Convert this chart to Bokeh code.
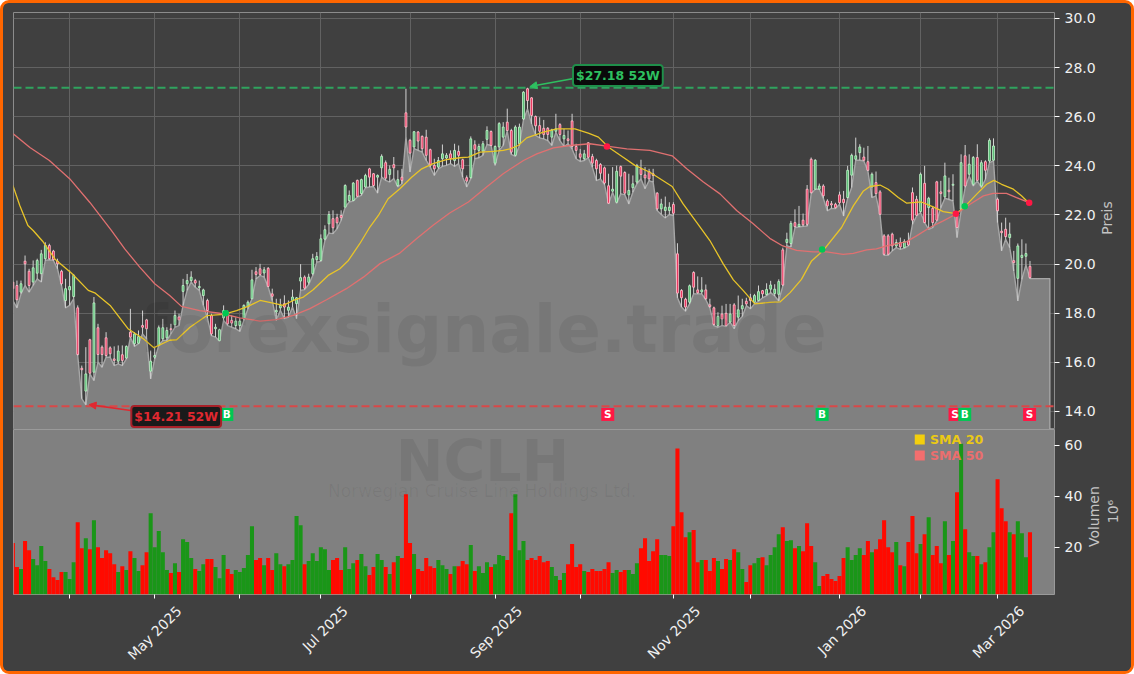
from bokeh.plotting import figure
from bokeh.layouts import column
from bokeh.core.properties import value
from bokeh.models import FixedTicker, Grid, Label, Arrow, NormalHead, Span, ColumnDataSource, Range1d, PrintfTickFormatter, LinearAxis
from bokeh.embed import file_html
from bokeh.resources import INLINE
import math

# ---------- data ----------
direction = (
    "RRGRRGGGGR" "RRRGGGRRGR" "GRRRRRGRGR" "GGRRGGGGGR" "GRGGGRGGRR"
    "GGGRRGGGGG" "RRGRRGGRGG" "GGRGGGGGGR" "RRGGGRGGRR" "GGRGRGRRRG"
    "RRRRRGGGRG" "RRRGRGGGRG" "GGRRGGGRRR" "RRRGGRGRRR" "RGRRRRRRGG"
    "RRGGGRRRRR" "GGGRRRRGRR" "GRRRGRRGRG" "GRRGGRGGGG" "RGGRGRRRGG"
    "RRRRRRGGGG" "RRGRRRRRGR" "GRRRGRGRRR" "GRGRGRGGRG" "RGGRRRGRGG" "GR"
)
high = [
    19.33,19.33,19.33,20.35,19.81,20.15,20.22,20.58,20.89,20.83,
    20.58,20.22,19.77,19.40,19.74,19.60,18.32,15.87,16.62,16.96,
    18.66,17.57,16.69,17.23,16.65,16.65,16.69,16.69,16.69,18.18,
    17.23,17.30,18.11,17.77,16.48,16.62,17.50,17.77,17.43,17.57,
    18.11,17.98,19.40,19.60,19.71,19.40,19.33,19.00,18.59,17.98,
    17.57,17.37,18.32,18.11,17.91,17.84,17.81,18.36,18.52,19.77,
    19.88,20.01,19.88,19.88,19.00,18.59,18.59,18.73,18.52,18.96,
    18.66,20.00,19.54,19.61,20.42,20.49,21.21,21.58,22.16,22.19,
    22.05,22.19,23.25,23.00,23.34,23.44,23.48,23.68,23.92,23.71,
    23.65,24.47,24.22,24.02,24.36,23.82,23.88,27.14,25.10,25.42,
    25.42,25.24,25.47,24.70,24.29,24.36,24.87,24.52,24.63,24.90,
    24.83,24.29,23.61,25.20,25.04,24.90,25.01,25.61,25.44,24.83,
    25.78,25.78,26.33,25.51,25.65,25.72,27.04,27.18,26.80,26.05,
    25.98,25.87,25.58,25.51,26.12,25.74,25.51,25.44,26.12,24.90,
    24.69,24.65,24.96,24.49,24.29,24.11,23.97,23.68,23.95,24.01,
    24.01,23.78,23.68,23.61,24.08,24.25,23.95,23.88,23.88,22.93,
    22.66,22.75,22.52,22.52,20.85,18.98,18.63,19.17,19.71,19.50,
    19.47,19.17,18.59,18.27,18.04,18.31,18.38,18.38,18.41,18.72,
    18.59,18.63,18.79,18.79,19.13,18.95,19.22,19.32,19.18,19.38,
    20.67,21.28,21.76,22.23,22.37,22.06,23.22,24.34,24.27,23.28,
    23.25,22.64,22.57,22.50,22.95,22.98,24.00,24.50,25.15,24.88,
    24.74,24.81,23.73,23.77,23.01,21.22,21.22,21.28,21.01,21.08,
    21.01,21.28,23.12,22.78,23.73,24.00,22.74,22.37,23.39,23.39,
    24.13,23.52,23.66,22.14,24.47,24.85,24.47,24.40,24.88,24.23,
    24.23,25.12,25.12,22.71,21.69,21.89,21.69,20.54,20.84,21.01,
    20.84,20.13,
]
body_top = [
    19.27,19.13,19.20,20.12,19.71,19.85,20.15,20.42,20.76,20.76,
    20.53,20.12,19.71,19.00,19.09,19.54,18.22,15.76,15.53,16.92,
    18.42,17.41,16.62,17.00,16.59,16.14,16.46,16.31,16.65,17.23,
    17.16,17.05,17.50,17.73,16.05,16.28,17.41,17.41,17.30,17.37,
    17.91,17.85,19.13,19.33,19.47,19.33,19.09,18.95,18.52,17.91,
    17.43,17.33,18.11,17.98,17.71,17.68,17.68,18.32,18.45,19.36,
    19.69,19.81,19.77,19.83,18.79,18.12,18.32,18.39,18.25,18.66,
    18.63,19.45,19.47,19.47,20.22,20.31,21.03,21.40,22.02,21.85,
    21.89,21.98,23.20,22.80,23.30,23.41,23.44,23.61,23.88,23.68,
    23.61,24.39,24.13,23.86,24.05,23.44,23.54,26.16,25.04,25.39,
    25.38,25.20,25.17,24.66,24.02,24.22,24.49,24.43,24.49,24.63,
    24.59,24.25,23.52,25.10,24.86,24.79,24.90,25.44,25.40,24.79,
    25.72,25.58,25.78,25.44,25.58,25.58,27.00,27.14,26.77,26.01,
    25.64,25.53,25.53,25.47,25.51,25.68,25.24,25.10,25.83,24.79,
    24.49,24.49,24.94,24.38,24.22,24.06,23.92,23.19,23.05,23.78,
    23.97,23.73,23.00,23.27,24.01,23.88,23.63,23.77,23.68,22.89,
    22.45,22.32,22.32,22.43,20.42,18.93,18.57,19.12,19.66,18.95,
    18.95,18.95,18.34,18.22,17.87,17.97,18.00,17.97,18.34,18.14,
    18.31,18.49,18.63,18.72,18.88,18.92,18.97,19.15,18.98,19.29,
    20.58,21.01,21.66,21.69,21.62,21.79,23.05,24.27,24.23,23.18,
    23.18,22.57,22.46,22.44,22.82,22.64,23.82,24.43,24.41,24.77,
    24.36,24.17,23.66,23.32,22.94,21.15,21.15,21.22,20.88,20.88,
    20.92,20.94,22.91,22.64,23.66,23.29,22.68,22.27,23.35,22.94,
    23.59,23.01,23.25,22.06,24.13,24.41,24.07,24.34,24.34,24.13,
    24.17,25.04,24.81,22.64,21.34,21.42,21.22,20.14,20.74,20.36,
    20.43,19.91,
]
body_bot = [
    19.00,18.55,18.86,20.01,19.13,19.27,19.63,19.61,20.22,20.22,
    20.18,20.01,19.20,18.52,18.95,18.68,16.32,15.70,14.83,15.56,
    15.60,16.32,16.32,16.28,16.35,16.08,16.05,16.08,16.18,17.03,
    16.76,16.78,17.43,17.37,15.64,16.21,16.69,16.96,17.00,17.33,
    17.53,17.73,18.89,19.20,19.33,19.23,19.04,18.72,18.11,17.16,
    17.37,16.89,17.81,17.57,17.60,17.50,17.50,17.77,18.28,18.59,
    19.58,19.58,19.64,19.09,18.69,18.05,18.22,18.25,18.12,18.52,
    18.39,19.31,19.02,19.26,19.61,20.18,20.15,21.02,21.64,21.48,
    21.68,21.89,22.32,22.59,22.59,22.76,22.87,23.14,23.54,23.20,
    23.54,23.92,23.50,23.65,23.92,23.20,23.41,25.58,24.52,24.77,
    25.01,24.70,24.43,24.02,23.88,23.95,24.29,24.32,24.30,24.22,
    24.43,23.88,23.38,23.52,24.67,24.63,24.60,25.08,24.83,24.11,
    24.77,25.17,25.44,24.56,24.43,24.90,25.91,26.66,26.05,25.63,
    25.41,25.28,25.28,25.17,25.41,25.28,25.10,25.03,24.79,24.63,
    24.35,24.29,24.35,24.11,23.88,23.70,23.30,22.48,22.97,22.52,
    23.58,22.89,22.82,23.11,23.34,23.65,23.51,23.47,23.61,22.25,
    22.25,22.18,22.18,22.07,18.82,18.63,18.25,18.45,19.06,18.83,
    18.87,18.59,18.27,17.54,17.50,17.77,17.50,17.64,17.50,17.84,
    18.18,18.38,18.52,18.45,18.52,18.79,18.76,18.98,18.80,18.77,
    19.15,20.88,20.84,21.53,21.53,21.60,21.62,22.91,23.05,23.05,
    22.78,22.37,22.41,22.30,22.50,22.50,22.71,23.62,24.27,24.54,
    24.23,23.82,23.14,22.87,22.03,20.40,20.40,20.74,20.74,20.70,
    20.67,20.78,21.79,21.99,22.14,21.69,22.30,21.69,21.79,22.87,
    22.74,22.95,23.21,21.49,22.23,23.18,23.66,23.25,23.41,23.18,
    23.82,24.20,24.23,22.17,21.28,21.12,21.08,20.06,19.42,20.27,
    20.32,19.45,
]
low = [
    18.52,18.22,18.79,19.13,18.86,19.13,19.40,19.27,20.15,20.18,
    20.15,19.81,19.13,18.22,18.32,18.59,16.28,14.52,14.27,15.53,
    15.26,16.01,15.80,16.21,16.21,15.87,15.94,15.87,16.14,17.03,
    16.65,16.76,17.16,16.96,15.33,16.14,16.69,16.89,16.89,17.16,
    17.43,17.50,18.32,18.93,19.27,19.06,18.93,18.32,17.81,17.09,
    17.03,16.86,17.71,17.50,17.43,17.37,17.26,17.71,18.18,18.59,
    19.40,19.54,19.47,19.07,18.52,17.71,18.12,17.78,17.84,18.25,
    17.78,18.93,18.96,19.17,19.54,20.08,20.11,20.97,21.26,21.24,
    21.44,21.78,22.32,22.53,22.57,22.73,22.80,23.11,23.14,23.16,
    22.89,23.54,23.41,23.34,23.48,23.14,23.27,25.17,23.75,24.70,
    24.63,24.56,24.22,23.95,23.61,23.88,23.98,24.02,24.09,23.98,
    24.09,23.54,23.14,23.48,24.29,24.33,24.43,24.87,24.83,24.02,
    24.63,24.83,25.42,24.47,24.39,24.83,25.87,26.32,25.71,25.24,
    25.14,25.10,25.03,24.83,25.37,25.03,24.79,24.90,24.69,24.29,
    24.18,24.22,24.33,23.95,23.40,23.47,23.24,22.45,22.93,22.48,
    22.86,22.83,22.45,22.93,23.27,23.47,23.07,23.40,23.34,22.18,
    22.02,21.88,22.02,21.98,18.63,18.25,18.08,18.38,18.79,18.79,
    18.79,18.55,18.22,17.50,17.43,17.50,17.46,17.64,17.37,17.70,
    17.87,18.31,18.18,18.38,18.49,18.63,18.72,18.84,18.70,18.50,
    19.11,20.74,20.70,21.49,21.51,21.54,21.55,22.87,23.05,23.05,
    22.68,22.17,22.27,22.26,22.44,21.96,22.68,23.12,24.23,24.23,
    24.20,23.79,22.71,22.78,22.00,20.36,20.36,20.54,20.67,20.60,
    20.65,20.74,21.62,21.96,22.10,21.69,21.42,21.49,21.76,22.30,
    22.68,22.63,22.57,21.08,22.17,23.12,23.59,23.18,23.39,23.12,
    23.45,24.13,24.20,21.69,20.54,21.01,20.67,19.72,18.50,19.38,
    19.97,19.41,
]
volume = [
    21.6,12.2,11.4,22.4,18.8,15.3,12.9,20.4,14.5,11.4,
    8.2,7.1,10.2,10.2,7.5,14.1,29.8,19.6,23.5,19.2,
    30.6,20.0,15.7,18.8,17.6,13.3,10.2,12.5,11.0,18.4,
    15.7,10.6,12.9,18.0,33.3,20.0,26.3,18.0,11.0,9.8,
    13.7,10.2,23.1,22.0,15.7,11.4,10.6,13.3,15.3,15.3,
    12.2,7.8,16.9,11.4,9.4,11.0,10.2,11.8,16.9,28.2,
    14.9,15.7,12.9,15.7,11.0,17.6,13.3,12.5,13.3,14.9,
    32.2,28.6,13.3,14.5,17.6,14.5,20.0,19.2,11.0,14.9,
    15.7,11.0,20.0,11.4,13.7,14.9,17.3,12.5,9.0,12.2,
    17.3,14.9,12.2,9.4,14.1,16.5,15.7,40.8,21.6,17.3,
    11.4,10.6,15.7,12.5,11.8,14.9,12.9,11.4,9.4,12.5,
    12.5,14.5,13.3,20.8,10.6,12.5,9.8,14.1,12.2,13.3,
    16.9,16.5,14.9,33.3,40.8,18.8,22.4,14.9,15.7,14.9,
    16.5,14.1,14.5,12.2,8.6,7.1,9.8,13.3,21.2,12.2,
    13.3,10.6,10.2,11.4,10.6,10.6,11.4,14.1,9.8,11.0,
    10.2,11.0,11.0,9.4,13.7,19.6,23.5,14.5,18.4,23.1,
    16.9,16.9,16.5,28.2,58.8,33.7,23.9,25.9,26.7,14.1,
    14.9,14.9,10.6,15.7,14.5,11.4,15.3,14.9,19.2,18.0,
    11.4,6.3,12.9,13.7,15.7,16.0,12.9,16.9,20.0,25.1,
    27.8,22.4,22.7,19.6,20.4,18.4,29.4,20.4,14.1,4.7,
    8.6,9.4,7.5,6.7,8.6,15.7,20.0,14.9,16.9,19.6,
    16.9,22.4,18.0,19.2,23.1,30.6,20.0,18.0,22.0,12.9,
    12.5,22.0,32.2,17.6,21.2,25.1,31.8,16.9,20.4,13.7,
    30.2,16.9,22.4,41.6,60.7,27.0,18.0,16.5,16.5,13.3,
    14.1,20.0,25.9,46.7,35.3,30.2,25.9,25.1,30.2,25.5,
    16.0,25.9,
]
sma20_x = [0,1.7,3.7,5,7.5,10.4,14.5,18.6,20.2,24,28.4,32.2,34.8,38.7,40.4,43.7,47.8,52,55.2,58,61,
           64.2,66.7,69.2,71.7,74.1,77.8,80.7,82.8,85.6,88.1,90.2,92.6,95.5,98.4,100.9,103.7,107,110.3,
           112.4,115.3,118.5,121,122.7,124.7,126.8,130.9,134.2,138.7,142,144.5,147,150.6,153.5,157.2,
           162.7,165.4,168.7,172,175.3,177.8,180.2,183.1,186.8,189.3,191.8,194.6,197.1,200,204.5,207.4,
           209.9,211.5,214,216,218.5,220.6,224.2,227.1,229.6,232.7,234.5,237.8,240.3,242.1,244,246.9,248.9,250.8]
sma20 = [23.2,22.39,21.57,21.37,20.9,20.2,19.63,18.93,18.83,18.32,17.37,16.96,16.6,16.9,16.92,17.43,17.9,17.95,18.11,18.28,18.52,
         18.41,18.32,18.52,18.66,18.96,19.54,19.81,20.15,20.83,21.51,21.98,22.66,23.07,23.54,23.88,24.09,24.25,24.33,
         24.36,24.56,24.59,24.63,24.69,24.83,25.14,25.37,25.51,25.51,25.33,25.17,24.76,24.35,24.02,23.74,
         23.16,22.45,21.71,20.96,20.01,19.36,18.93,18.38,18.44,18.46,18.84,19.38,20.13,20.56,21.49,22.37,
         22.98,23.16,23.22,23.05,22.71,22.48,22.53,22.33,22.14,22.06,22.27,22.84,23.25,23.41,23.25,23.05,22.78,22.48]
sma50_x = [0,4.2,9,14,19,24.3,27.6,31.3,35,38.7,41.6,46.1,51,56,61,65,69.2,73.3,77.4,82.3,86.5,90.6,95.5,99.6,103.7,
           107.8,112.4,116.9,121,126,129.3,133.4,137.5,142.4,147,151.5,157.2,162.7,166.3,170.4,174.5,178.6,182.7,
           186.8,190,193.4,197.5,200.8,204.9,207.4,210.7,213.1,215.6,220.6,223,226.3,229.6,232.7,236.2,239.5,241.9,245.2,247.7,250.8]
sma50 = [25.32,24.75,24.22,23.48,22.51,21.37,20.62,19.88,19.2,18.72,18.28,18.11,18.0,17.81,17.68,17.74,17.91,18.19,18.55,19,19.47,20.02,20.45,21.03,21.58,
         22.08,22.53,23.14,23.68,24.22,24.49,24.73,24.83,24.9,24.79,24.69,24.63,24.41,23.88,23.34,22.86,22.18,21.64,
         21.05,20.74,20.56,20.5,20.5,20.4,20.44,20.58,20.62,20.74,20.92,21.15,21.49,21.76,22.03,22.44,22.78,22.88,22.88,22.71,22.5]
cross_x = [52.5,146.6,199.7,232.7,234.9,250.8]
cross_y = [18.0,24.79,20.6,22.05,22.36,22.5]
signal_x = [52.8,146.8,199.7,232.5,234.9,250.9]
signal_text = ["B","S","B","S","B","S"]
year_high = 27.18
year_low = 14.21
last_index = 255.9
major_pos = [35,76,119,163,204,243]
major_text = ["May 2025","Jul 2025","Sep 2025","Nov 2025","Jan 2026","Mar 2026"]
minor_pos = [14,56,98,140,182,224]

# ---------- style ----------
BG="#404040"; FILL="#808080"; EDGE="#a6a6a6"; GRID="#626262"
n=len(high)
xs=list(range(n))
up=[d=="G" for d in direction]
xr=Range1d(0.15,257.05)

p=figure(frame_width=1041,frame_height=417,x_range=xr,y_range=Range1d(13.267,30.244),
         x_axis_location=None,y_axis_location="right",toolbar_location=None,output_backend="svg",
         min_border_left=10,min_border_right=77,min_border_top=9,min_border_bottom=0,
         background_fill_color=BG,border_fill_color=BG,outline_line_color="#8c8c8c",tools="")
p.grid.visible=False
p.add_layout(Grid(dimension=0,ticker=FixedTicker(ticks=major_pos+minor_pos),grid_line_color=GRID,grid_line_width=1))
p.add_layout(Grid(dimension=1,ticker=FixedTicker(ticks=list(range(14,31,2))),grid_line_color=GRID,grid_line_width=1))
ya=p.yaxis[0]
ya.ticker=FixedTicker(ticks=list(range(14,31,2)))
ya.formatter=PrintfTickFormatter(format="%.1f")
ya.axis_line_color=None
ya.major_tick_line_color="#ffffff"; ya.major_tick_out=5; ya.major_tick_in=0; ya.minor_tick_line_color=None
ya.major_label_text_color="#f0f0f0"; ya.major_label_text_font="DejaVu Sans"; ya.major_label_text_font_size="14px"

p.patch(xs+[last_index,last_index,0],low+[low[-1],0,0],fill_color=FILL,line_color=EDGE,line_width=1.4)

WM="#000000"
p.add_layout(Label(x=116.0,y=17.35,text="forexsignale.trade",text_align="center",text_baseline="middle",
    text_font="DejaVu Sans",text_font_style="bold",text_font_size="66px",text_color=WM,text_alpha=0.07))

p.add_layout(Span(location=year_high,dimension="width",line_color="#2fa35e",line_dash=[8,4],line_width=2))
p.add_layout(Span(location=year_low,dimension="width",line_color="#d84848",line_dash=[8,4],line_width=2))

p.segment(xs,high,xs,low,line_color="#d2d2d2",line_width=1)
bsrc=ColumnDataSource(dict(x=xs,top=body_top,bottom=body_bot,
    fill=["#48b868" if u else "#e8204e" for u in up],
    edge=["#c0f0c8" if u else "#ffc0cc" for u in up]))
p.vbar(x="x",top="top",bottom="bottom",width=0.45,fill_color="fill",line_color="edge",line_width=0.9,source=bsrc)

p.line(sma20_x,sma20,line_color="#E8C428",line_width=1.3)
p.line(sma50_x,sma50,line_color="#E07070",line_width=1.3)
p.scatter(cross_x,cross_y,size=6.5,line_color=None,
          fill_color=["#00C853","#FF1744","#00C853","#FF1744","#00C853","#FF1744"])

sig_y=[13.88]*len(signal_x)
p.scatter(signal_x,sig_y,marker="square",size=13,line_color=None,
          fill_color=["#00C853" if t=="B" else "#FF1744" for t in signal_text])
p.text(signal_x,sig_y,text=signal_text,text_color="#ffffff",text_font=value("DejaVu Sans"),text_font_style="bold",
       text_font_size="10.5px",text_align="center",text_baseline="middle")

def note(x,y,txt,col,edge,bg):
    p.add_layout(Label(x=x,y=y,text=txt,text_align="center",text_baseline="middle",text_font="DejaVu Sans",
        text_font_style="bold",text_font_size="12.5px",text_color=col,background_fill_color=bg,
        border_line_color=edge,border_line_width=2,padding=3,border_radius=3))
p.add_layout(Arrow(end=NormalHead(size=7,fill_color="#2ec060",line_color="#2ec060"),x_start=138.4,y_start=27.56,
    x_end=127.6,y_end=27.23,line_color="#2ec060",line_width=1.6))
p.add_layout(Arrow(end=NormalHead(size=7,fill_color="#e02830",line_color="#e02830"),x_start=29.1,y_start=14.04,
    x_end=18.8,y_end=14.28,line_color="#e02830",line_width=1.6))
note(149.3,27.68,"$27.18 52W","#2ec060","#1f8f4a","#0a0a0a")
note(40.3,13.8,"$14.21 52W","#e02830","#a82028","#1a1a1a")
# axis title beside the frame; a Label in a side panel is not clipped to the frame
p.add_layout(Label(x=269.9,y=21.88,text="Preis",text_align="center",text_baseline="middle",angle=90,angle_units="deg",
    text_font="DejaVu Sans",text_font_size="14px",text_color="#c4c4c4"),"right")

v=figure(frame_width=1041,frame_height=165,x_range=xr,y_range=Range1d(1.37,66.27),
         y_axis_location="right",toolbar_location=None,output_backend="svg",
         min_border_left=10,min_border_right=77,min_border_top=0,min_border_bottom=77,
         background_fill_color=FILL,border_fill_color=BG,outline_line_color="#9a9a9a",tools="")
v.grid.visible=False
v.add_layout(Label(x=115.9,y=54.0,text="NCLH",text_align="center",text_baseline="middle",text_font="DejaVu Sans",
    text_font_style="bold",text_font_size="57px",text_color=WM,text_alpha=0.07))
v.add_layout(Label(x=115.8,y=42.0,text="Norwegian Cruise Line Holdings Ltd.",text_align="center",text_baseline="middle",
    text_font="DejaVu Sans",text_font_size="17px",text_color=WM,text_alpha=0.06))
vsrc=ColumnDataSource(dict(x=xs,top=volume,color=["#1a9618" if u else "#ff0a00" for u in up]))
v.vbar(x="x",top="top",bottom=0,width=1.0,fill_color="color",line_color=None,source=vsrc)
vy=v.yaxis[0]
vy.ticker=FixedTicker(ticks=[20,40,60])
vy.axis_line_color=None
vy.major_tick_line_color="#ffffff"; vy.major_tick_out=5; vy.major_tick_in=0; vy.minor_tick_line_color=None
vy.major_label_text_color="#f0f0f0"; vy.major_label_text_font="DejaVu Sans"; vy.major_label_text_font_size="14px"
v.add_layout(Label(x=266.7,y=32.0,text="Volumen",text_align="center",text_baseline="middle",angle=90,angle_units="deg",
    text_font="DejaVu Sans",text_font_size="14px",text_color="#c4c4c4"),"right")
v.add_layout(Label(x=271.4,y=34.0,text="10⁶",text_align="center",text_baseline="middle",angle=90,angle_units="deg",
    text_font="DejaVu Sans",text_font_size="14px",text_color="#c4c4c4"),"right")
vx=v.xaxis[0]
vx.ticker=FixedTicker(ticks=major_pos,minor_ticks=minor_pos)
vx.axis_line_color=None
vx.major_tick_line_color="#ffffff"; vx.major_tick_out=4; vx.major_tick_in=0
vx.minor_tick_line_color="#ffffff"; vx.minor_tick_out=4; vx.minor_tick_in=0
vx.major_label_text_font_size="1px"; vx.major_label_text_color=None; vx.major_label_standoff=0
# date labels: Bokeh hangs a rotated label from its end, so that axis sits a little to the right of the ticks
shift=6
lab=LinearAxis(ticker=FixedTicker(ticks=[m+shift for m in major_pos],minor_ticks=[]),
    major_label_overrides={m+shift:t for m,t in zip(major_pos,major_text)},
    major_label_orientation=math.pi/4,major_label_text_font="DejaVu Sans",major_label_text_font_size="14px",
    major_label_text_color="#f0f0f0",major_label_standoff=10,axis_line_color=None,major_tick_line_color=None,minor_tick_line_color=None,
    major_tick_out=0,major_tick_in=0,minor_tick_out=0,minor_tick_in=0)
v.add_layout(lab,"below")
lx=[223.8,223.8]; ly=[62.3,56.0]
v.scatter(lx,ly,marker="square",size=10,line_color=None,fill_color=["#FFD700","#FF6B6B"],fill_alpha=0.9)
v.add_layout(Label(x=226.3,y=62.3,text="SMA 20",text_baseline="middle",text_font="DejaVu Sans",text_font_style="bold",
    text_font_size="12.6px",text_color="#FFD700",text_alpha=0.85))
v.add_layout(Label(x=226.3,y=56.0,text="SMA 50",text_baseline="middle",text_font="DejaVu Sans",text_font_style="bold",
    text_font_size="12.6px",text_color="#FF6B6B",text_alpha=0.85))

root=column(p,v,spacing=0,styles={"position":"absolute","left":"0","top":"0","width":"1134px","height":"674px",
    "box-sizing":"border-box","background":BG,"border":"3px solid #FF6600","border-radius":"9px","overflow":"hidden"})
open("out.html","w").write(file_html(root,INLINE))
